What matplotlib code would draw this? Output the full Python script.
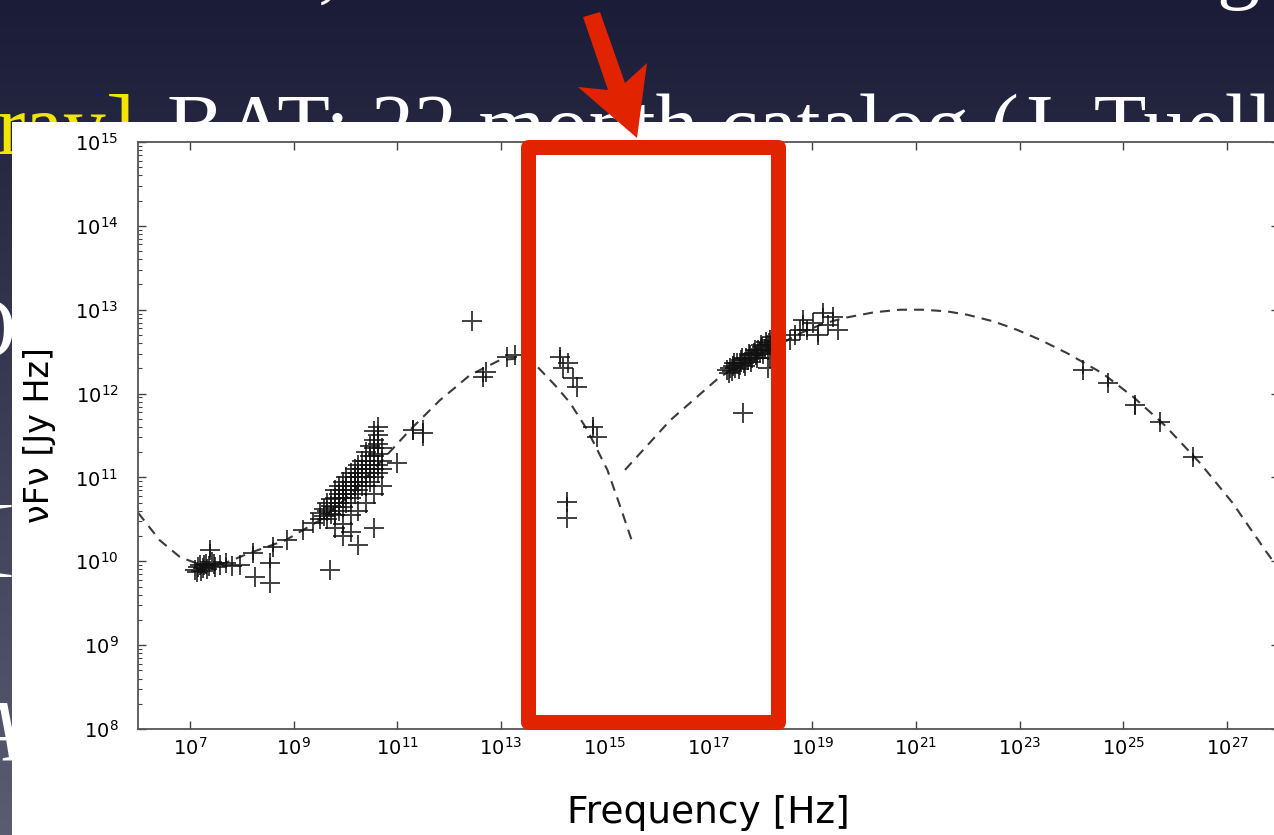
import numpy as np
import matplotlib.pyplot as plt
from matplotlib.patches import Rectangle, Polygon
from matplotlib.ticker import FixedLocator, LogLocator, NullLocator

# log10(frequency [Hz]) / log10(nuFnu [Jy Hz])
sync_lognu = [6.00, 6.42, 6.81, 7.20, 7.68, 8.16, 8.84, 9.51, 10.09, 10.67, 11.25,
              11.82, 12.40, 12.98, 13.37, 13.70, 14.04, 14.33, 14.66, 15.05, 15.30, 15.53]
sync_logf = [10.58, 10.25, 10.05, 9.96, 9.98, 10.10, 10.25, 10.49, 10.79, 11.18, 11.57,
             11.92, 12.22, 12.40, 12.42, 12.32, 12.10, 11.89, 11.57, 11.09, 10.65, 10.23]

ic_lognu = [15.39, 16.26, 17.22, 18.00, 18.77, 19.20, 19.60, 20.20, 20.70, 21.14, 21.60,
            21.99, 22.50, 22.95, 23.40, 23.92, 24.60, 25.19, 25.80, 26.48, 27.10, 27.77, 27.95]
ic_logf = [11.09, 11.68, 12.20, 12.46, 12.72, 12.83, 12.90, 12.97, 13.00, 13.00, 12.98,
           12.94, 12.86, 12.76, 12.64, 12.48, 12.24, 11.96, 11.62, 11.17, 10.70, 10.10, 9.95]

radio_lognu = [7.10, 7.16, 7.20, 7.25, 7.31, 7.37, 7.43, 7.49, 7.39, 7.58, 7.70, 7.81, 7.97,
               7.13, 7.22, 7.28, 7.34, 7.46,
               8.22, 8.26, 8.55, 8.55, 8.60, 8.87, 9.18, 9.38, 9.70]
radio_logf = [9.90, 9.93, 9.96, 9.92, 9.97, 9.94, 9.99, 9.93, 10.13, 9.96, 9.98, 9.94, 9.96,
              9.87, 9.89, 9.95, 9.91, 9.97,
              10.10, 9.81, 9.98, 9.74, 10.17, 10.25, 10.37, 10.46, 9.90]
radio_err = [0, 0, 0, 0.05, 0, 0, 0, 0.05, 0.08, 0, 0.06, 0, 0,
             0, 0.04, 0, 0, 0,
             0.08, 0, 0.06, 0, 0.06, 0, 0, 0, 0]

blob_lognu = [9.50, 9.50,
              9.65, 9.65, 9.65,
              9.80, 9.80, 9.80, 9.80, 9.80,
              9.95, 9.95, 9.95, 9.95, 9.95, 9.95,
              10.10, 10.10, 10.10, 10.10, 10.10, 10.10,
              10.25, 10.25, 10.25, 10.25, 10.25, 10.25,
              10.40, 10.40, 10.40, 10.40, 10.40, 10.40,
              10.55, 10.55, 10.55, 10.55, 10.55, 10.55, 10.55, 10.55,
              10.70, 10.70, 10.70, 10.70,
              9.58, 9.58, 9.72, 9.72, 9.72, 9.88, 9.88, 9.88, 9.88,
              10.02, 10.02, 10.02, 10.02, 10.18, 10.18, 10.18, 10.18,
              10.32, 10.32, 10.32, 10.32, 10.47, 10.47, 10.47, 10.47, 10.47,
              10.62, 10.62, 10.62, 10.62, 10.62, 10.62]
blob_logf = [10.50, 10.58,
             10.50, 10.60, 10.70,
             10.55, 10.65, 10.75, 10.85, 10.40,
             10.65, 10.75, 10.85, 10.95, 10.45, 10.30,
             10.75, 10.85, 10.95, 11.05, 10.55, 10.35,
             10.85, 10.95, 11.05, 11.15, 10.60, 10.20,
             10.90, 11.00, 11.10, 11.20, 11.30, 10.70,
             11.00, 11.10, 11.25, 11.35, 11.45, 11.55, 10.80, 10.40,
             11.10, 11.20, 11.35, 10.90,
             10.54, 10.62, 10.56, 10.66, 10.74, 10.60, 10.70, 10.80, 10.90,
             10.70, 10.80, 10.90, 11.00, 10.80, 10.90, 11.00, 11.10,
             10.90, 11.00, 11.10, 11.20, 10.95, 11.05, 11.15, 11.25, 11.38,
             11.05, 11.15, 11.28, 11.40, 11.50, 11.60]

mm_lognu = [11.00, 11.30, 11.50, 12.44, 12.65, 12.71, 13.12, 13.27]
mm_logf = [11.17, 11.57, 11.53, 12.87, 12.20, 12.26, 12.44, 12.46]
mm_err = [0, 0.12, 0.15, 0, 0.06, 0, 0, 0]

opt_lognu = [14.14, 14.20, 14.29, 14.39, 14.47, 14.78, 14.85, 14.27, 14.27]
opt_logf = [12.44, 12.30, 12.37, 12.19, 12.08, 11.60, 11.48, 10.71, 10.52]
opt_err = [0.08, 0, 0, 0, 0, 0.08, 0, 0.06, 0]

xray_lognu = [17.36, 17.42, 17.47, 17.52, 17.55, 17.60, 17.63, 17.68, 17.72, 17.76, 17.80, 17.84,
              17.88, 17.92, 17.96, 18.00, 18.04, 18.08, 18.12, 18.16, 18.19, 17.67, 18.18, 18.15,
              17.40, 17.45, 17.50, 17.58, 17.65, 17.70, 17.78, 17.82, 17.90, 17.94, 18.02, 18.06,
              18.10, 18.14, 18.20, 18.22]
xray_logf = [12.28, 12.30, 12.33, 12.30, 12.36, 12.34, 12.40, 12.37, 12.42, 12.40, 12.46, 12.43,
             12.48, 12.46, 12.52, 12.50, 12.55, 12.53, 12.58, 12.60, 12.64, 11.77, 12.42, 12.30,
             12.25, 12.27, 12.36, 12.29, 12.43, 12.33, 12.47, 12.38, 12.52, 12.42, 12.58, 12.47,
             12.62, 12.52, 12.58, 12.67]

bat_lognu = [18.57, 18.67, 18.77, 18.83, 18.90, 19.02, 19.11, 19.21, 19.31, 19.40, 19.50]
bat_logf = [12.64, 12.70, 12.76, 12.88, 12.76, 12.84, 12.70, 12.96, 12.82, 12.91, 12.76]
bat_err = [0, 0.06, 0, 0.06, 0.08, 0, 0.08, 0.06, 0, 0.06, 0]

lat_lognu = [24.23, 24.71, 25.23, 25.71, 26.35]
lat_logf = [12.28, 12.13, 11.86, 11.66, 11.24]
lat_err = [0.05, 0.05, 0.10, 0.04, 0.05]

W, H = 1274, 835
RED = '#e12300'

fig = plt.figure(figsize=(W / 100, H / 100), dpi=100)

# slide behind the chart
bg = fig.add_axes([0, 0, 1, 1], zorder=0)
bg.set_xlim(0, W)
bg.set_ylim(H, 0)
bg.axis('off')
shade = np.linspace(0, 1, 256)[:, None, None]
top_c = np.array([27, 29, 56]) / 255
bot_c = np.array([90, 92, 114]) / 255
bg.imshow(top_c + (bot_c - top_c) * shade, extent=(0, W, H, 0), aspect='auto', zorder=0)

serif = dict(family='Liberation Serif', fontsize=62, va='baseline', zorder=2)
bg.text(-4, 154, 'ray]', color='#f2e600', **serif)
bg.text(167, 154, 'BAT: 22 month catalog (J. Tueller)', color='white', **serif)
bg.text(318, -8, ',', color='white', **serif)
bg.text(1216, -8, 'g', color='white', **serif)
bg.text(16, 357, 'O', color='white', ha='right', **serif)
bg.text(14, 565, '[', color='white', ha='right', **serif)
bg.text(22, 760, 'A', color='white', ha='right', style='italic', **serif)
bg.add_patch(Rectangle((12, 122), W - 12, H - 122, fc='white', ec='none', zorder=3))

# the SED plot
ax = fig.add_axes([138 / W, 1 - 729 / H, 1141 / W, (729 - 142) / H], zorder=1)
ax.set_xscale('log')
ax.set_yscale('log')

ax.plot(10 ** np.array(sync_lognu), 10 ** np.array(sync_logf), color='#3a3a3a',
        lw=1.5, dashes=(4.8, 3.4))
ax.plot(10 ** np.array(ic_lognu), 10 ** np.array(ic_logf), color='#3a3a3a',
        lw=1.5, dashes=(4.8, 3.4))


def points(lognu, logf, err=None):
    nu = 10 ** np.array(lognu)
    f = 10 ** np.array(logf)
    if err is None:
        err = np.zeros(len(lognu))
    err = np.array(err)
    yerr = [f - f / 10 ** err, f * 10 ** err - f]
    ax.errorbar(nu, f, yerr=yerr, fmt='+', color='#111111', ms=15, mew=1.4,
                elinewidth=1.3, capsize=0, alpha=0.8)


points(radio_lognu, radio_logf, radio_err)
points(blob_lognu, blob_logf)
points(mm_lognu, mm_logf, mm_err)
points(opt_lognu, opt_logf, opt_err)
points(xray_lognu, xray_logf)
points(bat_lognu, bat_logf, bat_err)
points(lat_lognu, lat_logf, lat_err)

ax.set_xlim(1e6, 1e28)
ax.set_ylim(1e8, 1e15)
ax.xaxis.set_major_locator(FixedLocator([10.0 ** k for k in range(7, 28, 2)]))
ax.xaxis.set_minor_locator(NullLocator())
ax.yaxis.set_major_locator(FixedLocator([10.0 ** k for k in range(8, 16)]))
ax.yaxis.set_minor_locator(LogLocator(base=10, subs=np.arange(2, 10), numticks=30))
ax.tick_params(which='both', direction='in', top=True, right=True, labelsize=14,
               color='#444444')
ax.tick_params(which='major', length=6, width=1)
ax.tick_params(which='minor', length=3, width=0.8)
ax.tick_params(axis='y', pad=14)
ax.tick_params(axis='x', pad=6)
for s in ax.spines.values():
    s.set_color('#555555')
    s.set_linewidth(1.3)
ax.set_xlabel('Frequency [Hz]', fontsize=27, labelpad=26)
ax.set_ylabel('νFν [Jy Hz]', fontsize=24, labelpad=14)

# red highlight box and arrow on top
ov = fig.add_axes([0, 0, 1, 1], zorder=2)
ov.set_xlim(0, W)
ov.set_ylim(H, 0)
ov.axis('off')
ov.patch.set_alpha(0)
ov.add_patch(Rectangle((527.5, 147), 250, 575, fill=False, ec=RED, lw=15 * 0.72,
                       joinstyle='round'))
ov.add_patch(Polygon([(583, 17), (600, 12), (625, 83), (647, 63), (637, 138),
                      (578, 87), (608, 90)], closed=True, fc=RED, ec='none'))

fig.savefig('out.png', dpi=100)
